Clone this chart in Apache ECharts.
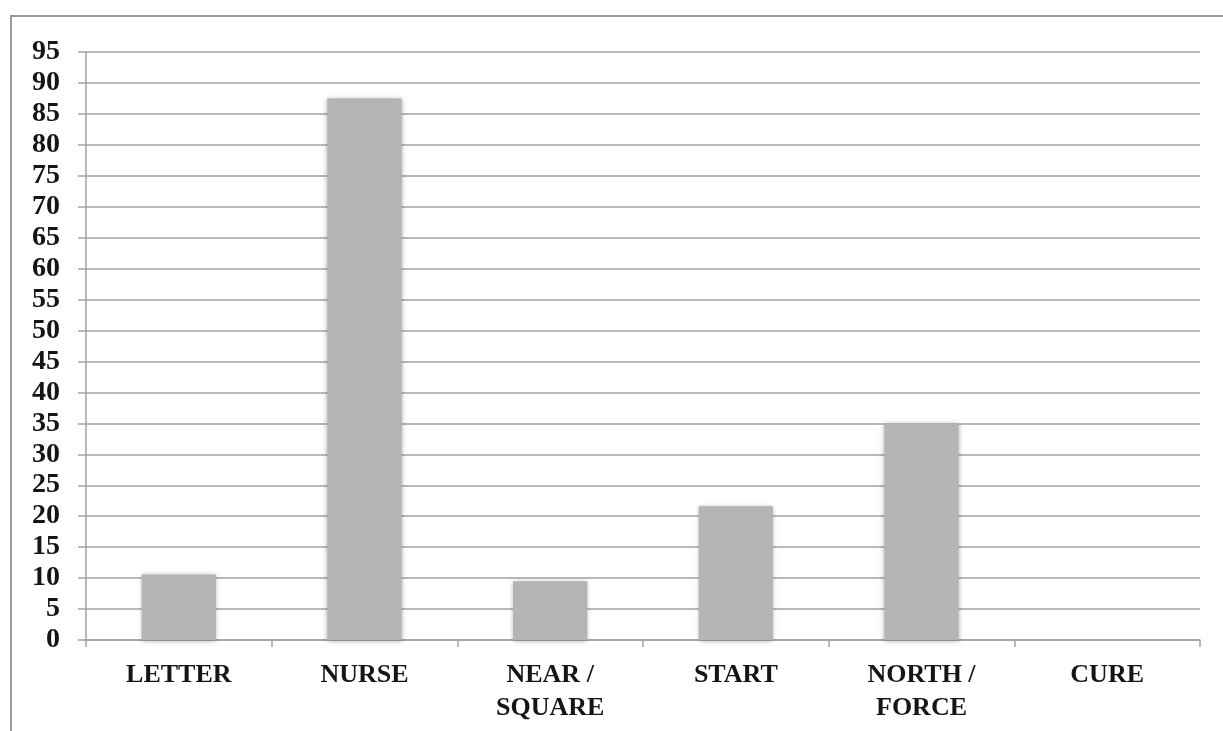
<!DOCTYPE html>
<html>
<head>
<meta charset="utf-8">
<script src="https://cdn.jsdelivr.net/npm/echarts@6/dist/echarts.min.js"></script>
<style>
html,body{margin:0;padding:0;background:#fff;}
#chart{width:1223px;height:731px;}
</style>
</head>
<body>
<div id="chart"></div>
<script>
const categories = ['LETTER', 'NURSE', 'NEAR /\nSQUARE', 'START', 'NORTH /\nFORCE', 'CURE'];
const values = [10.6, 87.5, 9.5, 21.6, 35, 0];
const yMin = 0, yMax = 95, yStep = 5;

const FONT = '"Liberation Serif", "DejaVu Serif", serif';
const chart = echarts.init(document.getElementById('chart'));
chart.setOption({
  animation: false,
  backgroundColor: '#fff',
  graphic: [
    { type: 'line', shape: { x1: 10, y1: 16, x2: 1223, y2: 16 }, style: { stroke: '#9a9a9a', lineWidth: 2 } },
    { type: 'line', shape: { x1: 11, y1: 16, x2: 11, y2: 731 }, style: { stroke: '#9a9a9a', lineWidth: 2 } }
  ],
  grid: { left: 86, right: 23, top: 52, bottom: 91 },
  xAxis: {
    type: 'category',
    data: categories,
    axisLine: { show: true, lineStyle: { color: '#a2a2a4', width: 1.5 } },
    axisTick: { show: true, interval: 0, length: 7, lineStyle: { color: '#a2a2a4', width: 1.5 } },
    axisLabel: { interval: 0, margin: 19, color: '#151515', fontFamily: FONT, fontWeight: 'bold', fontSize: 26, lineHeight: 33 }
  },
  yAxis: {
    type: 'value',
    min: yMin, max: yMax, interval: yStep,
    axisLine: { show: true, lineStyle: { color: '#a2a2a4', width: 1.5 } },
    axisTick: { show: true, length: 8, lineStyle: { color: '#a2a2a4', width: 1.5 } },
    splitLine: { show: true, lineStyle: { color: '#a2a2a4', width: 1.5 } },
    axisLabel: { margin: 26, color: '#151515', fontFamily: FONT, fontWeight: 'bold', fontSize: 28 }
  },
  series: [{
    type: 'bar',
    data: values,
    barWidth: '40%',
    itemStyle: { color: '#b4b4b6', shadowBlur: 5, shadowColor: 'rgba(0,0,0,0.3)', shadowOffsetX: 0, shadowOffsetY: 1 }
  }]
});
</script>
</body>
</html>
